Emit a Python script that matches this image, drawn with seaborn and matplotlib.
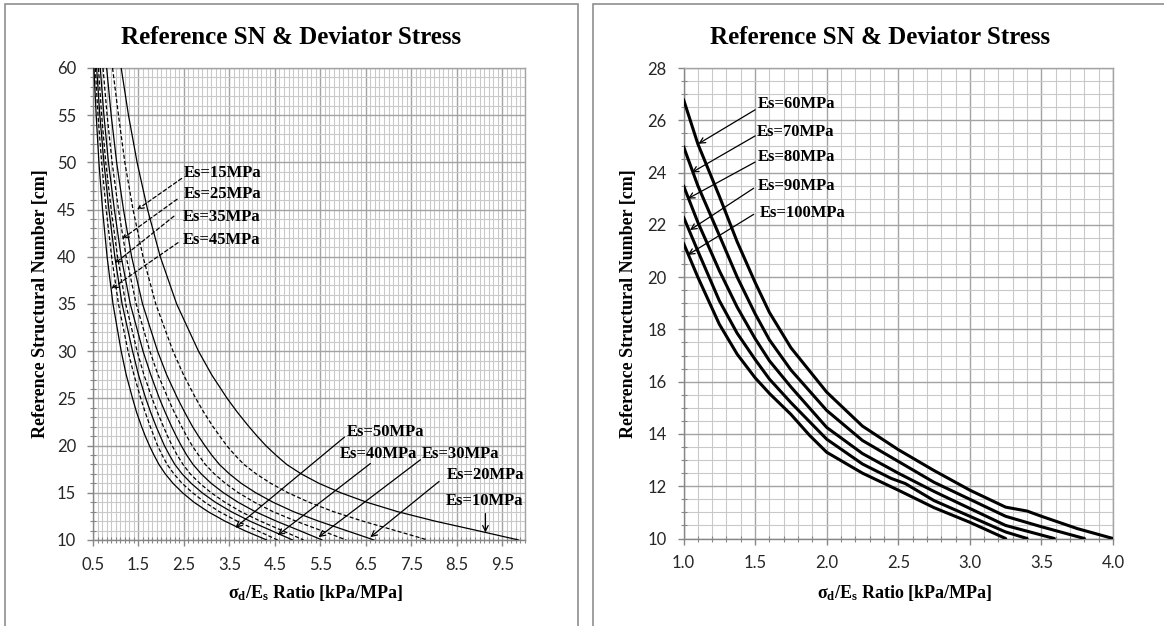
import matplotlib
matplotlib.use("Agg")
import numpy as np
import pandas as pd
import matplotlib.pyplot as plt
import seaborn as sns
from matplotlib.ticker import MultipleLocator, FormatStrFormatter
from matplotlib.patches import Rectangle

# ---------------- data ----------------
# Left chart: SN levels shared by all curves, ratio values per Es
Y_LEFT = [60, 55, 50, 45, 40, 35, 30, 27.5, 25, 23.5, 22, 21, 20, 19, 18, 17, 16, 15, 14, 13, 12, 11, 10]
X_ES10 = [1.12, 1.28, 1.47, 1.70, 1.98, 2.34, 2.82, 3.11, 3.45, 3.68, 3.93, 4.11, 4.30, 4.52, 4.76, 5.08, 5.47, 5.95, 6.52, 7.20, 8.02, 8.95, 9.86]
X_ES15 = [0.93, 1.06, 1.20, 1.38, 1.60, 1.88, 2.26, 2.49, 2.76, 2.94, 3.14, 3.29, 3.44, 3.62, 3.82, 4.09, 4.41, 4.79, 5.25, 5.79, 6.43, 7.15, 7.86]
X_ES20 = [0.80, 0.90, 1.02, 1.17, 1.35, 1.59, 1.92, 2.12, 2.36, 2.52, 2.69, 2.82, 2.96, 3.11, 3.28, 3.50, 3.76, 4.08, 4.46, 4.91, 5.46, 6.07, 6.68]
X_ES25 = [0.72, 0.81, 0.92, 1.06, 1.23, 1.45, 1.75, 1.93, 2.15, 2.29, 2.45, 2.56, 2.68, 2.82, 2.97, 3.17, 3.41, 3.70, 4.05, 4.46, 4.96, 5.52, 6.07]
X_ES30 = [0.66, 0.74, 0.84, 0.97, 1.12, 1.32, 1.60, 1.77, 1.96, 2.09, 2.23, 2.33, 2.44, 2.56, 2.70, 2.88, 3.10, 3.37, 3.69, 4.07, 4.53, 5.04, 5.54]
X_ES35 = [0.62, 0.69, 0.78, 0.90, 1.04, 1.22, 1.47, 1.62, 1.80, 1.92, 2.05, 2.14, 2.24, 2.35, 2.48, 2.64, 2.85, 3.10, 3.40, 3.75, 4.18, 4.66, 5.13]
X_ES40 = [0.58, 0.65, 0.74, 0.85, 0.98, 1.14, 1.37, 1.50, 1.66, 1.77, 1.89, 1.98, 2.07, 2.18, 2.30, 2.46, 2.66, 2.90, 3.19, 3.54, 3.95, 4.42, 4.89]
X_ES45 = [0.55, 0.61, 0.69, 0.79, 0.91, 1.06, 1.27, 1.40, 1.55, 1.65, 1.76, 1.84, 1.92, 2.02, 2.13, 2.28, 2.46, 2.69, 2.96, 3.28, 3.67, 4.11, 4.56]
X_ES50 = [0.52, 0.57, 0.63, 0.71, 0.81, 0.94, 1.12, 1.23, 1.37, 1.46, 1.57, 1.65, 1.74, 1.84, 1.95, 2.09, 2.26, 2.47, 2.72, 3.03, 3.40, 3.83, 4.32]
LEFT_ES = [10, 15, 20, 25, 30, 35, 40, 45, 50]

# Right chart curves
X_ES60 = [1.0, 1.1, 1.25, 1.375, 1.5, 1.6, 1.75, 2.0, 2.25, 2.5, 2.75, 3.0, 3.25, 3.4, 3.5, 3.75, 4.0]
Y_ES60 = [26.8, 25.1, 23.1, 21.35, 19.8, 18.65, 17.3, 15.6, 14.3, 13.4, 12.6, 11.85, 11.2, 11.05, 10.85, 10.38, 10.0]
X_ES70 = [1.0, 1.1, 1.25, 1.375, 1.5, 1.6, 1.75, 2.0, 2.25, 2.5, 2.75, 3.0, 3.25, 3.5, 3.8]
Y_ES70 = [25.0, 23.5, 21.6, 20.0, 18.6, 17.6, 16.45, 14.9, 13.75, 12.95, 12.15, 11.5, 10.85, 10.45, 10.0]
X_ES80 = [1.0, 1.1, 1.25, 1.375, 1.5, 1.6, 1.75, 2.0, 2.25, 2.5, 2.75, 3.0, 3.25, 3.59]
Y_ES80 = [23.5, 22.1, 20.25, 18.85, 17.65, 16.8, 15.8, 14.25, 13.25, 12.5, 11.8, 11.15, 10.5, 10.0]
X_ES90 = [1.0, 1.1, 1.25, 1.375, 1.5, 1.6, 1.75, 2.0, 2.25, 2.45, 2.5, 2.55, 2.75, 3.0, 3.25, 3.4]
Y_ES90 = [22.3, 21.0, 19.1, 17.85, 16.85, 16.1, 15.2, 13.8, 12.85, 12.3, 12.2, 12.1, 11.45, 10.85, 10.25, 10.0]
X_ES100 = [1.0, 1.1, 1.25, 1.375, 1.5, 1.6, 1.75, 1.88, 2.0, 2.25, 2.5, 2.75, 3.0, 3.25]
Y_ES100 = [21.3, 20.0, 18.2, 17.05, 16.15, 15.55, 14.75, 13.95, 13.3, 12.5, 11.85, 11.18, 10.62, 10.0]
RIGHT_ES = [60, 70, 80, 90, 100]

# ---------------- style ----------------
sns.set_theme(style="white")
plt.rcParams["font.family"] = ["Lato", "DejaVu Sans"]
plt.rcParams["mathtext.fontset"] = "custom"
plt.rcParams["mathtext.rm"] = "Liberation Serif"
plt.rcParams["mathtext.it"] = "Liberation Serif:italic"
plt.rcParams["mathtext.bf"] = "Liberation Serif:bold"

SERIF = "Liberation Serif"
W, H = 1164, 626
fig = plt.figure(figsize=(W / 100, H / 100), dpi=100)
fig.patch.set_facecolor("white")

# panel frames
for x0, x1 in [(5, 578), (593, 1170)]:
    fig.patches.append(Rectangle((x0 / W, -0.05), (x1 - x0) / W, 1 - 4 / H + 0.05,
                                 transform=fig.transFigure, fill=False,
                                 edgecolor="#8f8f8f", linewidth=1.2, zorder=0))

ax1 = fig.add_axes([93 / W, 1 - 540 / H, 432 / W, 472 / H])
ax2 = fig.add_axes([683.5 / W, 1 - 538.5 / H, 429.5 / W, 470.5 / H])

# left curves
left_x = [X_ES10, X_ES15, X_ES20, X_ES25, X_ES30, X_ES35, X_ES40, X_ES45, X_ES50]
frames = []
for es, xs in zip(LEFT_ES, left_x):
    frames.append(pd.DataFrame({"ratio": xs, "sn": Y_LEFT, "Es": es}))
df_left = pd.concat(frames, ignore_index=True)
for es in LEFT_ES:
    sub = df_left[df_left["Es"] == es]
    ls = "-" if es % 10 == 0 else (0, (3.2, 1.8))
    sns.lineplot(data=sub, x="ratio", y="sn", ax=ax1, color="black", linewidth=0.9,
                 linestyle=ls, sort=False, estimator=None, legend=False, zorder=3)

# right curves
right_xy = [(X_ES60, Y_ES60), (X_ES70, Y_ES70), (X_ES80, Y_ES80), (X_ES90, Y_ES90), (X_ES100, Y_ES100)]
frames = []
for es, (xs, ys) in zip(RIGHT_ES, right_xy):
    frames.append(pd.DataFrame({"ratio": xs, "sn": ys, "Es": es}))
df_right = pd.concat(frames, ignore_index=True)
for es in RIGHT_ES:
    sub = df_right[df_right["Es"] == es]
    sns.lineplot(data=sub, x="ratio", y="sn", ax=ax2, color="black", linewidth=2.2,
                 sort=False, estimator=None, legend=False, zorder=3)

# axes formatting
def style_axes(ax, xlim, ylim, xmin, ymaj, ymin, xfmt, xticks):
    ax.set_xlim(*xlim)
    ax.set_ylim(*ylim)
    ax.set_xticks(xticks)
    ax.xaxis.set_minor_locator(MultipleLocator(xmin))
    ax.yaxis.set_major_locator(MultipleLocator(ymaj))
    ax.yaxis.set_minor_locator(MultipleLocator(ymin))
    ax.xaxis.set_major_formatter(FormatStrFormatter(xfmt))
    ax.yaxis.set_major_formatter(FormatStrFormatter("%d"))
    ax.grid(True, which="minor", color="#c9c9c9", linewidth=0.8, zorder=0)
    ax.grid(True, which="major", color="#a3a3a3", linewidth=1.0, zorder=0)
    ax.set_axisbelow(True)
    for s in ax.spines.values():
        s.set_color("#a3a3a3")
        s.set_linewidth(1.0)
    ax.spines["left"].set_color("#868686")
    ax.spines["bottom"].set_color("#868686")
    ax.tick_params(which="major", direction="out", length=4, width=1, color="#868686",
                   labelsize=12, pad=8, left=True, bottom=True)
    ax.tick_params(which="minor", direction="inout", length=4, width=0.8, color="#868686",
                   left=True, bottom=True)
    ax.set_xlabel("")
    ax.set_ylabel("")
    ax.set_facecolor("white")

style_axes(ax1, (0.5, 10), (10, 60), 0.1, 5, 1, "%.1f", np.arange(0.5, 10.0, 1.0))
style_axes(ax2, (1.0, 4.0), (10, 28), 0.1, 2, 0.5, "%.1f", np.arange(1.0, 4.01, 0.5))

# titles and axis labels
tkw = dict(family=SERIF, fontweight="bold", color="black")
fig.text(291.5 / W, 1 - 37 / H, "Reference SN & Deviator Stress", ha="center", va="center", fontsize=18, **tkw)
fig.text(880 / W, 1 - 37 / H, "Reference SN & Deviator Stress", ha="center", va="center", fontsize=18, **tkw)
fig.text(41 / W, 1 - 304 / H, "Reference Structural Number [cm]", rotation=90, ha="center", va="center", fontsize=13, **tkw)
fig.text(629 / W, 1 - 304 / H, "Reference Structural Number [cm]", rotation=90, ha="center", va="center", fontsize=13, **tkw)
xl = r"σ$_\mathbf{d}$/E$_\mathbf{s}$ Ratio [kPa/MPa]"
fig.text(316 / W, 1 - 593 / H, xl, ha="center", va="center", fontsize=13, **tkw)
fig.text(905 / W, 1 - 593 / H, xl, ha="center", va="center", fontsize=13, **tkw)

# annotations
akw = dict(family=SERIF, fontweight="bold", fontsize=12, color="black", ha="left", va="center", zorder=5)

def arrow(ax, start, tip, dashed=False):
    ax.annotate("", xy=tip, xytext=start, zorder=5,
                arrowprops=dict(arrowstyle="->", color="black", lw=0.9,
                                linestyle=(0, (3, 2)) if dashed else "-",
                                shrinkA=0, shrinkB=0, mutation_scale=10))

# left chart labels (text pos, arrow start, arrow tip, dashed)
LEFT_NOTES = [
    ("Es=15MPa", (2.50, 48.9), (2.45, 48.3), (1.47, 45.0), True),
    ("Es=25MPa", (2.50, 46.7), (2.35, 46.1), (1.14, 41.9), True),
    ("Es=35MPa", (2.48, 44.2), (2.28, 44.3), (0.98, 39.3), True),
    ("Es=45MPa", (2.48, 41.75), (2.37, 41.5), (0.90, 36.6), True),
    ("Es=50MPa", (6.09, 21.4), (6.03, 20.9), (3.63, 11.3), False),
    ("Es=40MPa", (5.93, 19.1), (6.60, 18.1), (4.56, 10.5), False),
    ("Es=30MPa", (7.74, 19.1), (7.70, 18.5), (5.46, 10.3), False),
    ("Es=20MPa", (8.27, 16.9), (8.11, 16.2), (6.60, 10.3), False),
    ("Es=10MPa", (8.25, 14.1), (9.13, 12.8), (9.13, 10.8), False),
]
for label, tpos, start, tip, dashed in LEFT_NOTES:
    ax1.text(tpos[0], tpos[1], label, **akw)
    arrow(ax1, start, tip, dashed)

RIGHT_NOTES = [
    ("Es=60MPa", (1.52, 26.63), (1.50, 26.4), (1.104, 25.1)),
    ("Es=70MPa", (1.51, 25.56), (1.50, 25.4), (1.057, 24.0)),
    ("Es=80MPa", (1.52, 24.6), (1.50, 24.4), (1.03, 23.0)),
    ("Es=90MPa", (1.52, 23.5), (1.49, 23.4), (1.045, 21.8)),
    ("Es=100MPa", (1.53, 22.45), (1.49, 22.4), (1.03, 20.85)),
]
for label, tpos, start, tip in RIGHT_NOTES:
    ax2.text(tpos[0], tpos[1], label, **akw)
    arrow(ax2, start, tip)

fig.savefig("out.png", dpi=100, facecolor="white")
